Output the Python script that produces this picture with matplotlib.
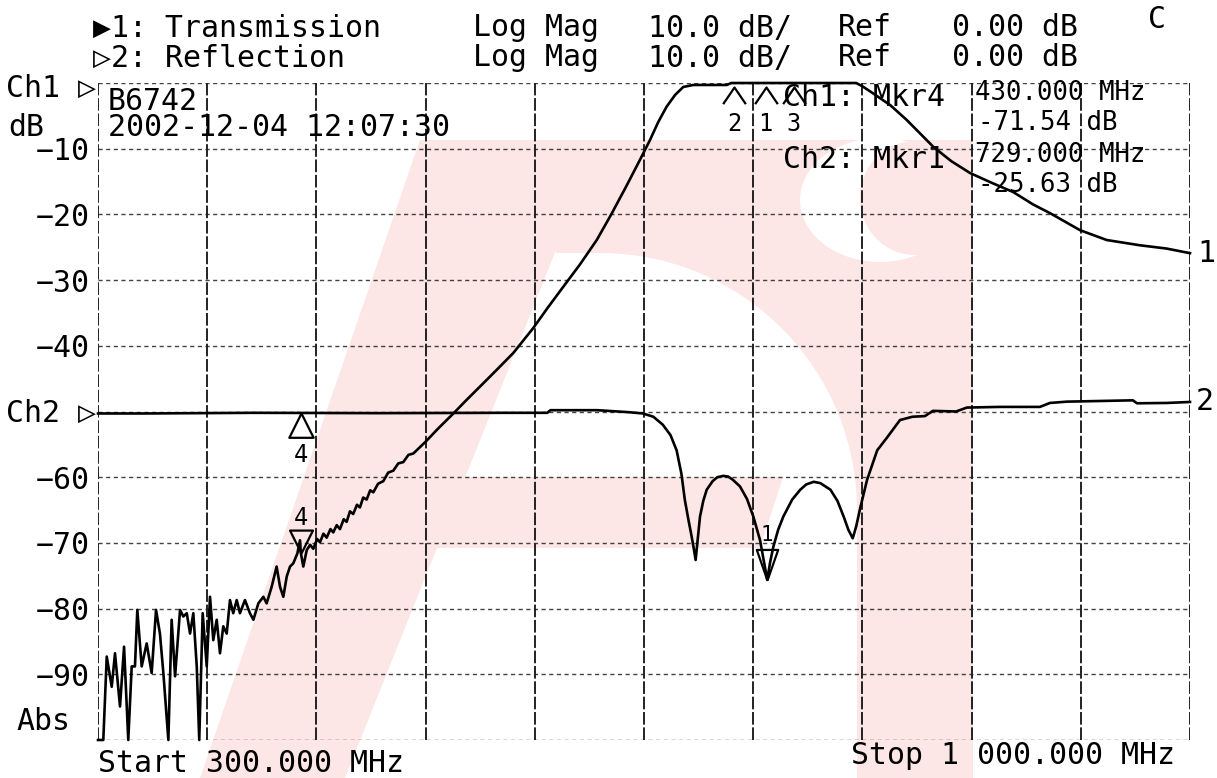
import numpy as np
import matplotlib
matplotlib.use("Agg")
import matplotlib.pyplot as plt
from matplotlib.patches import Polygon, Ellipse

# Ch1: transmission, MHz / dB
ch1_freq = [300.0, 303.4, 305.6, 308.8, 310.9, 314.1, 316.7, 319.4, 321.6, 323.7,
            325.2, 328.0, 331.2, 334.4, 337.2, 339.7, 341.9, 345.1, 347.2, 349.4,
            352.6, 354.7, 356.9, 359.0, 361.1, 363.3, 364.9, 367.1, 369.7, 371.8,
            373.9, 376.1, 378.2, 380.3, 382.5, 384.6, 386.7, 388.9, 391.0, 394.2,
            397.4, 399.6, 402.8, 406.0, 408.1, 411.3, 414.5, 416.7, 418.8, 421.0,
            423.1, 425.2, 427.8, 429.5, 430.0, 431.6, 433.8, 436.0, 438.0, 440.5,
            442.3, 444.5, 446.6, 449.0, 450.8, 453.0, 455.1, 457.5, 459.4, 461.5,
            463.6, 466.0, 467.9, 470.0, 472.2, 474.5, 476.5, 479.5, 482.9, 486.0,
            489.3, 492.5, 495.7, 499.0, 502.1, 510.0, 518.0, 527.8, 536.0, 544.9,
            555.0, 566.2, 579.0, 588.0, 598.3, 609.0, 619.7, 629.0, 638.9, 647.4,
            653.8, 659.0, 664.5, 670.0, 675.2, 681.6, 703.0, 706.0, 786.0, 790.0,
            797.0, 808.0, 818.3, 835.4, 847.0, 859.0, 872.0, 886.7, 899.5, 910.2,
            929.5, 946.6, 967.9, 985.0, 1000.0]
ch1_db = [-100.0, -100.0, -87.3, -91.9, -86.8, -94.9, -85.8, -100.0, -88.8, -88.8,
          -80.2, -88.8, -85.3, -89.8, -80.2, -83.8, -89.8, -100.0, -81.7, -90.3,
          -80.2, -81.2, -80.7, -83.8, -80.7, -88.8, -100.0, -80.7, -88.8, -78.2,
          -84.8, -81.7, -86.8, -82.7, -83.8, -78.7, -80.7, -78.7, -80.7, -78.7,
          -80.7, -81.7, -79.2, -78.2, -79.2, -76.7, -73.6, -76.7, -78.2, -75.1,
          -73.6, -73.1, -71.6, -69.6, -71.5, -73.6, -71.1, -70.3, -70.9, -69.4,
          -69.9, -68.6, -69.2, -67.9, -68.4, -67.3, -67.9, -66.4, -66.8, -65.2,
          -65.6, -64.2, -64.6, -63.1, -63.4, -62.0, -62.3, -61.0, -60.6, -59.3,
          -59.0, -57.9, -57.7, -56.6, -56.4, -54.6, -52.6, -50.3, -48.3, -46.2,
          -43.8, -41.1, -37.3, -34.3, -31.0, -27.6, -23.9, -20.0, -15.6, -11.7,
          -8.7, -6.0, -3.6, -1.8, -0.6, -0.3, -0.3, 0.0, 0.0, -0.5,
          -1.6, -3.4, -5.6, -9.7, -11.9, -13.7, -15.1, -16.6, -18.5, -19.8,
          -22.4, -23.9, -24.7, -25.2, -25.9]

# Ch2: reflection, MHz / dB (0 dB on the centre graticule line)
ch2_freq = [300.0, 330.0, 400.0, 480.0, 560.0, 588.0, 590.0, 620.0, 640.0, 649.3,
            656.0, 662.0, 667.0, 670.9, 674.0, 676.2, 678.5, 680.6, 682.0, 683.1,
            684.2, 685.9, 688.0, 690.2, 694.0, 697.0, 700.8, 704.0, 707.0, 711.5,
            716.0, 720.1, 724.4, 727.0, 729.0, 730.8, 732.9, 736.0, 739.3, 745.0,
            750.2, 754.0, 758.8, 763.0, 769.5, 774.0, 778.0, 781.0, 783.8, 786.0,
            788.8, 793.0, 799.5, 806.0, 814.1, 822.0, 830.1, 835.2, 850.0, 857.0,
            878.2, 903.8, 910.2, 921.1, 963.4, 966.0, 985.0, 1000.0]
ch2_db = [-0.3, -0.3, -0.2, -0.25, -0.2, -0.2, 0.2, 0.2, -0.1, -0.3,
          -0.8, -2.0, -3.6, -5.9, -9.5, -13.5, -16.5, -19.1, -21.0, -22.6,
          -20.0, -16.0, -13.6, -11.9, -10.6, -10.0, -9.8, -9.9, -10.4, -11.4,
          -13.3, -16.0, -19.6, -23.0, -25.63, -23.0, -20.6, -18.0, -16.0, -13.4,
          -11.9, -11.1, -10.7, -10.9, -11.9, -13.6, -16.0, -18.0, -19.3, -17.5,
          -14.5, -10.4, -5.9, -3.9, -1.3, -0.8, -0.7, 0.1, 0.0, 0.6,
          0.7, 0.7, 1.3, 1.5, 1.7, 1.25, 1.3, 1.45]

ch1_mkr_num = ["1", "2", "3"]
ch1_mkr_freq = [728.0, 708.0, 746.0]
ch1_mkr4_freq = 430.0
ch2_mkr4_freq = 430.0
ch2_mkr1_freq = 729.0

start_mhz, stop_mhz = 300.0, 1000.0
ch2_ref = -50.0

W, H = 1217, 778
MONO = ["DejaVu Sans Mono", "DejaVu Sans"]
FS = 21.5
FS_RO = 18.5   # marker readout block, lines sit close together

fig = plt.figure(figsize=(W / 100, H / 100), dpi=100)
fig.patch.set_facecolor("white")


def fx(px):
    return px / W


def fy(py):
    return 1 - py / H


def ftext(px, py, s, **kw):
    kw.setdefault("fontsize", FS)
    fig.text(fx(px), fy(py), s, family=MONO, va="center", **kw)


# faint pink watermark behind the graticule
pink = "#fce6e6"
t = np.linspace(0, np.pi / 2, 40)
inner = np.column_stack([600 + 257 * np.cos(t), 510 - 257 * np.sin(t)])
ring = np.vstack([[(556, 140), (973, 140), (973, 778), (857, 778)], inner, [(556, 253)]])
shapes = [
    Polygon(ring, closed=True),
    Polygon([(200, 778), (345, 778), (600, 140), (420, 140)], closed=True),
    Polygon([(420, 477), (783, 477), (760, 548), (420, 548)], closed=True),
]
for s in shapes:
    s.set(facecolor=pink, edgecolor="none", zorder=-2)
    s.set_xy([(fx(a), fy(b)) for a, b in s.get_xy()])
    s.set_transform(fig.transFigure)
    fig.add_artist(s)
for (cx, cy, w, h, c) in [(880, 200, 160, 124, "white"), (915, 198, 110, 114, pink)]:
    e = Ellipse((fx(cx), fy(cy)), w / W, h / H, facecolor=c, edgecolor="none",
                zorder=-2, transform=fig.transFigure)
    fig.add_artist(e)

ax = fig.add_axes([fx(98), fy(740), (1190 - 98) / W, (740 - 83) / H])
ax.set_facecolor("none")
ax.set_xlim(start_mhz, stop_mhz)
ax.set_ylim(-100, 0)
ax.set_xticks(np.linspace(start_mhz, stop_mhz, 11))
yt = np.arange(-100, 1, 10)
ax.set_yticks(yt)
ax.set_yticklabels(["" if v in (-100, 0, ch2_ref) else "\u2212%d" % -v for v in yt],
                   family=MONO, fontsize=FS)
ax.tick_params(length=0, labelbottom=False, pad=6)
for sp in ax.spines.values():
    sp.set_visible(False)
ax.xaxis.grid(True, color="#111111", lw=1.3, ls=(0, (7, 1.5)))
ax.yaxis.grid(True, color="#222222", lw=1.0, ls=(0, (3, 2.5)), alpha=0.85)
ax.set_axisbelow(True)

ax.plot(ch1_freq, ch1_db, color="black", lw=1.9, clip_on=False, solid_joinstyle="round")
ax.plot(ch2_freq, np.array(ch2_db) + ch2_ref, color="black", lw=1.9, clip_on=False,
        solid_joinstyle="round")

# markers, apex on the trace
tri_dn = [(0, 0), (-0.5, 1), (0.5, 1), (0, 0)]
tri_up = [(0, 0), (-0.5, -1), (0.5, -1), (0, 0)]
tri_dn_narrow = [(0, 0), (-0.35, 1), (0.35, 1), (0, 0)]
caret = [(-0.68, -1), (0, 0), (0.68, -1)]
mk = dict(color="black", mfc="none", mew=1.6, clip_on=False, ls="none")
num = dict(family=MONO, fontsize=17, ha="center", va="center", textcoords="offset points",
           annotation_clip=False)

for n, f in zip(ch1_mkr_num, ch1_mkr_freq):
    yv = np.interp(f, ch1_freq, ch1_db) - 0.6
    ax.plot([f], [yv], marker=caret, ms=24, **mk)
    ax.annotate(n, (f, yv), xytext=(0, -27), **num)

y4 = np.interp(ch1_mkr4_freq, ch1_freq, ch1_db)
ax.plot([ch1_mkr4_freq], [y4], marker=tri_dn, ms=33, **mk)
ax.annotate("4", (ch1_mkr4_freq, y4), xytext=(0, 25), **num)

y4b = np.interp(ch2_mkr4_freq, ch2_freq, ch2_db) + ch2_ref
ax.plot([ch2_mkr4_freq], [y4b], marker=tri_up, ms=35, **mk)
ax.annotate("4", (ch2_mkr4_freq, y4b), xytext=(0, -30), **num)

y1b = np.interp(ch2_mkr1_freq, ch2_freq, ch2_db) + ch2_ref
ax.plot([ch2_mkr1_freq], [y1b], marker=tri_dn_narrow, ms=44, **mk)
ax.annotate("1", (ch2_mkr1_freq, y1b), xytext=(0, 32), fontsize=15, family=MONO,
            ha="center", va="center", textcoords="offset points")

# trace end labels
ax.annotate("1", (stop_mhz, ch1_db[-1]), xytext=(5, 0), textcoords="offset points",
            family=MONO, fontsize=FS, va="center", annotation_clip=False)
ax.annotate("2", (stop_mhz, ch2_db[-1] + ch2_ref), xytext=(4, 0), textcoords="offset points",
            family=MONO, fontsize=FS, va="center", annotation_clip=False)

# header
ftext(93, 28, "\u25b61: Transmission")
ftext(93, 58, "\u25b72: Reflection")
for yy in (28, 58):
    ftext(473, yy, "Log Mag")
    ftext(648, yy, "10.0 dB/")
    ftext(838, yy, "Ref")
    ftext(952, yy, "0.00 dB")
ftext(1148, 20, "C")

# left side
ftext(6, 88, "Ch1 \u25b7")
ftext(8, 128, "dB")
ftext(6, 413, "Ch2 \u25b7")
ftext(16, 722, "Abs")

# inside annotations
ftext(108, 101, "B6742")
ftext(108, 128, "2002-12-04 12:07:30")
ftext(783, 97, "Ch1: Mkr4")
ftext(975, 93, "430.000 MHz", fontsize=FS_RO)
ftext(978, 123, "-71.54 dB", fontsize=FS_RO)
ftext(783, 159, "Ch2: Mkr1")
ftext(975, 155, "729.000 MHz", fontsize=FS_RO)
ftext(978, 185, "-25.63 dB", fontsize=FS_RO)

# sweep limits
ftext(98, 763, "Start 300.000 MHz")
ftext(851, 756, "Stop 1 000.000 MHz")

fig.savefig("out.png", dpi=100)
